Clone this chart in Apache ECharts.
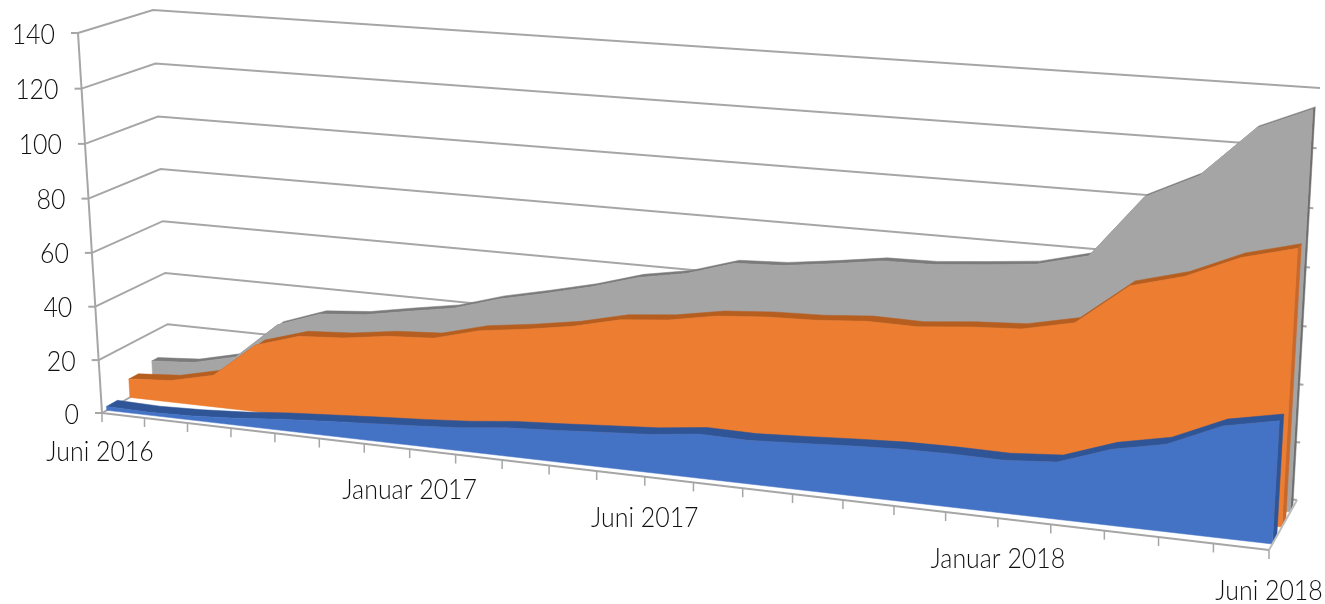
<!DOCTYPE html>
<html><head><meta charset="utf-8">
<style>html,body{margin:0;padding:0;background:#fff}#c{width:1325px;height:604px}</style>
<script src="https://cdn.jsdelivr.net/npm/echarts@6/dist/echarts.min.js"></script>
</head><body><div id="c"></div>
<script>
var months = ['Juni 2016','Juli 2016','August 2016','September 2016','Oktober 2016','November 2016','Dezember 2016','Januar 2017','Februar 2017','März 2017','April 2017','Mai 2017','Juni 2017','Juli 2017','August 2017','September 2017','Oktober 2017','November 2017','Dezember 2017','Januar 2018','Februar 2018','März 2018','April 2018','Mai 2018','Juni 2018'];
var shownMonths = ['Juni 2016','Januar 2017','Juni 2017','Januar 2018','Juni 2018'];
var yTicks = [0,20,40,60,80,100,120,140];
var blueValues = [1.5,1.1,1.6,2.6,4.1,5.2,6.3,7.3,8.5,10.3,11.3,12.5,13.6,15.6,15.3,16.2,17.2,18,18.2,18,19.3,25.5,29.1,37,40.5];
var orangeValues = [7.1,8.3,12.1,25.2,30.2,31.3,33.6,34.6,39,41.2,43.9,47.9,49.5,52.5,53.8,54.3,55.6,55.3,56.9,57.9,61.6,75.6,80.3,88,92.5];
var grayValues = [9.2,10.4,14.3,28.3,34.1,35.5,38.5,41.3,46.3,50,54,59,62,67.2,68,70.2,72.7,73,74.5,76.2,80.6,102,110.5,127.5,135];

// perspective box of the 3D chart
var box = {FL0:[102,413],FL1:[78,33],BL0:[170,375],BL1:[153,10],FR0:[1269,550],FR1:[1294,112],BR0:[1297,500],BR1:[1320,88]};
var perspX = 1.15, perspXDepth = 0.02, perspY = 1.03;
var G = {left:100,top:100,width:1000,height:400};
function lerp(a,b,k){return [a[0]+(b[0]-a[0])*k,a[1]+(b[1]-a[1])*k];}
// takes pixel coordinates from the hidden cartesian axes, returns the projected pixel
function project(c,wL,wR){
  var u=(c[0]-G.left)/G.width, v0=(G.top+G.height-c[1])/G.height;
  var w0=(wL+wR)/2, r=perspX-perspXDepth*w0;
  var t=u/(u+r*(1-u));
  var v=v0/(v0+perspY*(1-v0));
  var w=wL+(wR-wL)*t;
  var a=lerp(lerp(box.FL0,box.BL0,w),lerp(box.FL1,box.BL1,w),v);
  var b=lerp(lerp(box.FR0,box.BR0,w),lerp(box.FR1,box.BR1,w),v);
  return lerp(a,b,t);
}
var line={stroke:'#a6a6a6',lineWidth:2,fill:null};
function poly(pts,fill){return {type:'polygon',shape:{points:pts},style:{fill:fill,stroke:fill,lineWidth:0.5}};}
function pl(pts,st){return {type:'polyline',shape:{points:pts},style:st||line};}
var font='300 28px Lato';
function txt(x,y,s,align){return {type:'text',x:x,y:y,scaleX:0.89,style:{text:s,font:font,fill:'#111',align:align,verticalAlign:'middle'}};}

function areaSeries(name,values,wL,wR,depth,front,dark,side,z){
  return {type:'custom',name:name,coordinateSystem:'cartesian2d',z:z,clip:false,silent:true,
    data:values.map(function(v,i){return [i,v];}),
    renderItem:function(p,api){
      if(p.dataIndex!==0) return null;
      var n=values.length,top=[],back=[],i;
      for(i=0;i<n;i++){var c=api.coord([i,values[i]]);top.push(project(c,wL,wR));back.push(project(c,wL+depth,wR+depth));}
      var b0=api.coord([0,0]),b1=api.coord([n-1,0]);
      var fb0=project(b0,wL,wR),fb1=project(b1,wL,wR),bb1=project(b1,wL+depth,wR+depth);
      var band=top.concat(back.slice().reverse());
      return {type:'group',children:[
        poly([fb1,top[n-1],back[n-1],bb1],side),
        poly(band,dark),
        poly([fb0].concat(top).concat([fb1]),front)
      ]};
    }};
}

function wallSeries(){
  return {type:'custom',name:'walls',coordinateSystem:'cartesian2d',z:1,clip:false,silent:true,
    data:yTicks.map(function(v){return [0,v];}),
    renderItem:function(p,api){
      var v=yTicks[p.dataIndex],last=months.length-1;
      var a=project(api.coord([0,v]),0,0),b=project(api.coord([0,v]),1,1),c=project(api.coord([last,v]),1,1);
      return {type:'group',children:[pl([a,b,c]),pl([[a[0]-7,a[1]],a])]};
    }};
}
function frameSeries(){
  return {type:'custom',name:'axes',coordinateSystem:'cartesian2d',z:10,clip:false,silent:true,
    data:months.map(function(m,i){return [i,0];}),
    renderItem:function(p,api){
      var i=p.dataIndex,last=months.length-1,ch=[];
      var a=project(api.coord([i,0]),0,0);
      ch.push(pl([a,[a[0],a[1]+9]],{stroke:'#a6a6a6',lineWidth:1.5,fill:null}));
      if(i===0){
        var e=project(api.coord([last,0]),0,0);
        ch.push(pl([a,e]));
        ch.push(pl([project(api.coord([0,140]),0,0),a]));
        ch.push(pl([e,project(api.coord([last,0]),1,1)],{stroke:'#bdbdbd',lineWidth:2,fill:null}));
        yTicks.forEach(function(v){
          var q=project(api.coord([0,v]),0,0);
          ch.push(txt(q[0]-23,q[1]+1.5,String(v),'right'));
        });
      }
      if(shownMonths.indexOf(months[i])>=0){
        ch.push(txt(i===0?a[0]-2:a[0],a[1]+(i===0?39:41),months[i],'center'));
      }
      return {type:'group',children:ch};
    }};
}

var chart=echarts.init(document.getElementById('c'));
chart.setOption({
  animation:false,backgroundColor:'#fff',
  grid:Object.assign({},G),
  xAxis:{type:'category',data:months,boundaryGap:false,show:false},
  yAxis:{type:'value',min:0,max:140,interval:20,show:false},
  series:[
    wallSeries(),
    areaSeries('Grau',grayValues,0.75,0.76,0.09,'#a5a5a5','#7b7b7b','#6e6e6e',3),
    areaSeries('Orange',orangeValues,0.41,0.46,0.14,'#ed7d31','#b65e20','#c9682a',4),
    areaSeries('Blau',blueValues,0.07,0.12,0.16,'#4472c4','#2f5597','#2f5597',5),
    frameSeries()
  ]
});
</script></body></html>
